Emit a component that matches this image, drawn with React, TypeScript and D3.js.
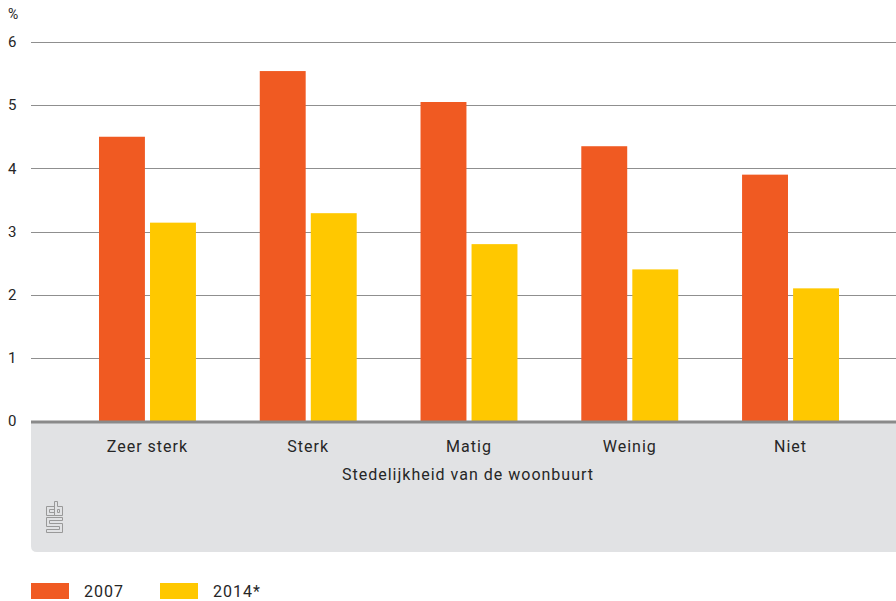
import React from "react";
import * as d3 from "d3";

const categories = ["Zeer sterk", "Sterk", "Matig", "Weinig", "Niet"];
const seriesNames = ["2007", "2014*"];
const values2007 = [4.5, 5.54, 5.05, 4.35, 3.9];
const values2014 = [3.14, 3.29, 2.8, 2.4, 2.1];
const yTicks = [0, 1, 2, 3, 4, 5, 6];
const colors = ["#f05a22", "#ffc800"];
const axisTitle = "Stedelijkheid van de woonbuurt";
const unitLabel = "%";

const W = 896;
const H = 601;
const FONT = "Roboto, 'Liberation Sans', sans-serif";

export default function App() {
  const left = 31;
  const right = 896;
  const y = d3.scaleLinear().domain([0, 6]).range([421, 42]);
  const x0 = d3
    .scaleBand<string>()
    .domain(categories)
    .range([67, 871])
    .paddingInner(0.397)
    .paddingOuter(0.199);
  const x1 = d3
    .scaleBand<string>()
    .domain(seriesNames)
    .range([0, x0.bandwidth()])
    .paddingInner(0.1);
  const series = [values2007, values2014];
  const txt = { fontSize: 16, fill: "#262626", letterSpacing: 1 } as const;

  return (
    <svg
      width={W}
      height={H}
      style={{ position: "absolute", left: 0, top: 0, background: "#fff" }}
      fontFamily={FONT}
    >
      {/* gray panel below axis */}
      <path
        d={`M${left},423 H${right} V552 H${left + 6} Q${left},552 ${left},546 Z`}
        fill="#e1e2e4"
      />
      {/* gridlines */}
      {yTicks
        .filter((t) => t > 0)
        .map((t) => (
          <line
            key={t}
            x1={left}
            x2={right}
            y1={Math.round(y(t)) + 0.5}
            y2={Math.round(y(t)) + 0.5}
            stroke="#8f8f8f"
            strokeWidth={1}
          />
        ))}
      {/* y tick labels */}
      {yTicks.map((t) => (
        <text key={t} x={8} y={y(t)} dy="0.35em" fontSize={15} fill="#262626">
          {t}
        </text>
      ))}
      <text x={8} y={19} fontSize={14} fill="#262626">
        {unitLabel}
      </text>
      {/* bars */}
      {categories.map((c, i) => (
        <g key={c} transform={`translate(${x0(c)},0)`}>
          {series.map((vals, s) => (
            <rect
              key={s}
              x={x1(seriesNames[s])}
              y={y(vals[i])}
              width={x1.bandwidth()}
              height={y(0) - y(vals[i])}
              fill={colors[s]}
            />
          ))}
        </g>
      ))}
      {/* baseline */}
      <line x1={left} x2={right} y1={422} y2={422} stroke="#8a8a8a" strokeWidth={3} />
      {/* category labels */}
      {categories.map((c) => (
        <text
          key={c}
          x={(x0(c) as number) + x0.bandwidth() / 2}
          y={452}
          textAnchor="middle"
          {...txt}
        >
          {c}
        </text>
      ))}
      <text x={468} y={480} textAnchor="middle" {...txt}>
        {axisTitle}
      </text>
      {/* CBS logo */}
      <g fill="none" stroke="#999" strokeWidth={1}>
        <path d="M54.5,506.5 H46.5 V515.5 H54.5 V512.5 H49.5 V509.5 H54.5 Z" />
        <path d="M54.5,501.5 H57.5 V506.5 H62.5 V515.5 H54.5 Z M57.5,509.5 H59.5 V512.5 H57.5 Z" />
        <path d="M46.5,517.5 H62.5 V520.5 H49.5 V523.5 H62.5 V532.5 H46.5 V529.5 H59.5 V526.5 H46.5 Z" />
      </g>
      {/* legend */}
      {seriesNames.map((n, s) => (
        <g key={n} transform={`translate(${31 + s * 129},583)`}>
          <rect width={38} height={16} fill={colors[s]} />
          <text x={53} y={14} {...txt}>
            {n}
          </text>
        </g>
      ))}
    </svg>
  );
}
